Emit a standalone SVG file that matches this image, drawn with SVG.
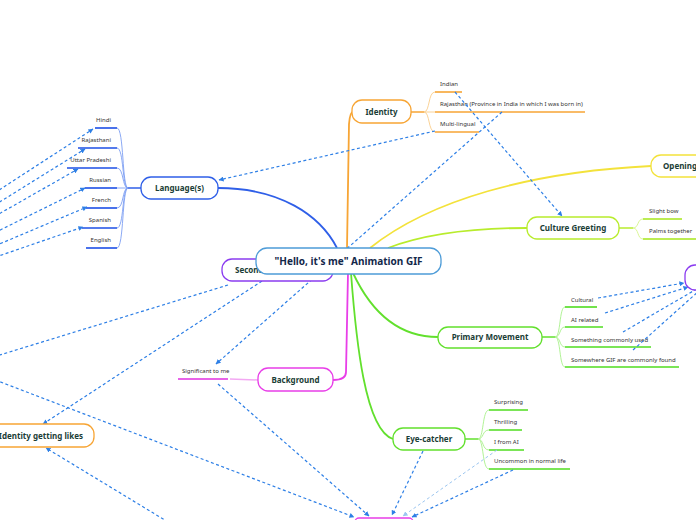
<svg xmlns="http://www.w3.org/2000/svg" width="696" height="520" viewBox="0 0 696 520">
<defs>
<marker id="ah" viewBox="0 0 6 6" refX="5.5" refY="3" markerWidth="5" markerHeight="5" markerUnits="userSpaceOnUse" orient="auto"><path d="M0,0 L6,3 L0,6 z" fill="#2d7fe6"/></marker>
<marker id="ahl" viewBox="0 0 6 6" refX="5.5" refY="3" markerWidth="5" markerHeight="5" markerUnits="userSpaceOnUse" orient="auto"><path d="M0,0 L6,3 L0,6 z" fill="#9cc6f0"/></marker>
<style>
.node{fill:#fff;stroke-width:1.3}
.lbl{font-family:"Noto Sans","Open Sans",sans-serif;font-weight:bold;font-size:8px;fill:#1a3d36;text-anchor:middle}
.ctr{font-family:"Noto Sans","Open Sans",sans-serif;font-weight:bold;font-size:10px;fill:#13284a;text-anchor:middle}
.sm{font-family:"Noto Sans","Open Sans",sans-serif;font-size:6px;fill:#333}
.br{fill:none;stroke-width:1.8}
.tw{fill:none;stroke-width:0.9}
.ul{fill:none;stroke-width:1.6}
.dash{fill:none;stroke:#2d7fe6;stroke-width:1.2;stroke-dasharray:3 2.5}
.dashl{fill:none;stroke:#9cc6f0;stroke-width:1;stroke-dasharray:3 2.5}
</style>
</defs>
<rect width="696" height="520" fill="#fff"/>

<g id="connectors">
<path class="br" stroke="#2f5fe8" d="M337,248 C320,215 280,188 218,188"/>
<path class="br" stroke="#f7a535" d="M347,248 L349,124 Q350,112 353,112"/>
<path class="br" stroke="#f3e23b" d="M370,248 C430,200 530,172 651,166"/>
<path class="br" stroke="#b8ec2c" d="M388,248 C430,232 480,228 527,228"/>
<path class="br" stroke="#62e02d" d="M353,273 C375,320 405,337 438,337"/>
<path class="br" stroke="#62e02d" d="M351,273 C356,340 365,430 393,439"/>
<path class="br" stroke="#e83ee8" d="M348,273 L346,372 Q346,380 333,380"/>
</g>

<g id="language-children">
<line x1="141" y1="188" x2="128" y2="188" stroke="#2f5fe8" stroke-width="1.5"/>
<g class="tw" stroke="#7e9ff3">
<path d="M128,188 C122,188 124,128 117,128"/>
<path d="M128,188 C122,188 124,148 117,148"/>
<path d="M128,188 C122,188 124,168 117,168"/>
<path d="M128,188 L117,188"/>
<path d="M128,188 C122,188 124,208 117,208"/>
<path d="M128,188 C122,188 124,228 117,228"/>
<path d="M128,188 C122,188 124,248 117,248"/>
</g>
<g class="ul" stroke="#1d4fe6">
<line x1="95" y1="128" x2="117" y2="128"/>
<line x1="78" y1="148" x2="117" y2="148"/>
<line x1="67" y1="168" x2="117" y2="168"/>
<line x1="85" y1="188" x2="117" y2="188"/>
<line x1="86" y1="208" x2="117" y2="208"/>
<line x1="82" y1="228" x2="117" y2="228"/>
<line x1="86" y1="248" x2="117" y2="248"/>
</g>
<g class="sm" text-anchor="end">
<text x="111" y="122">Hindi</text>
<text x="111" y="142">Rajasthani</text>
<text x="111" y="162">Uttar Pradeshi</text>
<text x="111" y="182">Russian</text>
<text x="111" y="202">French</text>
<text x="111" y="222">Spanish</text>
<text x="111" y="242">English</text>
</g>
</g>

<g id="identity-children">
<line x1="411" y1="112" x2="424" y2="112" stroke="#f7a535" stroke-width="1.5"/>
<g class="tw" stroke="#f9cd8a">
<path d="M424,112 C430,112 428,92 435,92"/>
<path d="M424,112 L435,112"/>
<path d="M424,112 C430,112 428,132 435,132"/>
</g>
<g class="ul" stroke="#f7a535">
<line x1="435" y1="92" x2="462" y2="92"/>
<line x1="435" y1="112" x2="585" y2="112"/>
<line x1="435" y1="132" x2="479" y2="132"/>
</g>
<g class="sm">
<text x="440" y="86">Indian</text>
<text x="440" y="106">Rajasthan (Province in India in which I was born in)</text>
<text x="440" y="126">Multi-lingual</text>
</g>
</g>

<g id="culture-children">
<line x1="619" y1="228" x2="633" y2="228" stroke="#b8ec2c" stroke-width="1.5"/>
<g class="tw" stroke="#d6f58a">
<path d="M633,228 C639,228 637,219 643,219"/>
<path d="M633,228 C639,228 637,239 643,239"/>
</g>
<g class="ul" stroke="#a6e61a">
<line x1="643" y1="219" x2="682" y2="219"/>
<line x1="643" y1="239" x2="700" y2="239"/>
</g>
<g class="sm">
<text x="649" y="213">Slight bow</text>
<text x="649" y="233">Palms together</text>
</g>
</g>

<g id="primary-children">
<line x1="542" y1="337" x2="555" y2="337" stroke="#62e02d" stroke-width="1.5"/>
<g class="tw" stroke="#a8f08a">
<path d="M555,337 C561,337 559,307 565,307"/>
<path d="M555,337 C561,337 559,327 565,327"/>
<path d="M555,337 C561,337 559,347 565,347"/>
<path d="M555,337 C561,337 559,367 565,367"/>
</g>
<g class="ul" stroke="#4fdc1f">
<line x1="565" y1="307" x2="597" y2="307"/>
<line x1="565" y1="327" x2="603" y2="327"/>
<line x1="565" y1="347" x2="651" y2="347"/>
<line x1="565" y1="367" x2="679" y2="367"/>
</g>
<g class="sm">
<text x="571" y="302">Cultural</text>
<text x="571" y="322">AI related</text>
<text x="571" y="342">Something commonly used</text>
<text x="571" y="362">Somewhere GIF are commonly found</text>
</g>
</g>

<g id="eye-children">
<line x1="465" y1="439" x2="478" y2="439" stroke="#62e02d" stroke-width="1.5"/>
<g class="tw" stroke="#a8f08a">
<path d="M478,439 C484,439 482,410 489,410"/>
<path d="M478,439 C484,439 482,430 489,430"/>
<path d="M478,439 C484,439 482,450 489,450"/>
<path d="M478,439 C484,439 482,469 489,469"/>
</g>
<g class="ul" stroke="#4fdc1f">
<line x1="489" y1="410" x2="528" y2="410"/>
<line x1="489" y1="430" x2="522" y2="430"/>
<line x1="489" y1="450" x2="524" y2="450"/>
<line x1="489" y1="469" x2="570" y2="469"/>
</g>
<g class="sm">
<text x="494" y="404">Surprising</text>
<text x="494" y="424">Thrilling</text>
<text x="494" y="444">I from AI</text>
<text x="494" y="463">Uncommon in normal life</text>
</g>
</g>

<g id="background-children">
<line x1="258" y1="380" x2="230" y2="379" stroke="#f3a8f3" stroke-width="1.5"/>
<line x1="178" y1="379" x2="228" y2="379" stroke="#e02fe0" stroke-width="1.6"/>
<text class="sm" x="182" y="373">Significant to me</text>
</g>

<g id="links">
<path class="dash" marker-end="url(#ah)" d="M435,131 L219,180"/>
<path class="dash" marker-end="url(#ah)" d="M502,112 L216,364"/>
<path class="dash" marker-end="url(#ah)" d="M455,92 L562,216"/>
<path class="dash" marker-end="url(#ah)" d="M-10,196 L93,129"/>
<path class="dash" marker-end="url(#ah)" d="M-10,208 L85,149"/>
<path class="dash" marker-end="url(#ah)" d="M-10,219 L78,169"/>
<path class="dash" marker-end="url(#ah)" d="M-10,235 L85,188"/>
<path class="dash" marker-end="url(#ah)" d="M-10,248 L87,207"/>
<path class="dash" marker-end="url(#ah)" d="M-10,259 L83,227"/>
<path class="dash" marker-end="url(#ah)" d="M262,281 L43,424"/>
<path class="dash" d="M228,285 L-10,358"/>
<path class="dash" marker-end="url(#ah)" d="M-10,378 L354,517"/>
<path class="dash" marker-end="url(#ah)" d="M218,384 L369,516"/>
<path class="dash" marker-end="url(#ah)" d="M423,451 L392,515"/>
<path class="dashl" marker-end="url(#ahl)" d="M497,450 L403,516"/>
<path class="dash" marker-end="url(#ah)" d="M513,470 L412,517"/>
<path class="dash" marker-end="url(#ah)" d="M173,525 L46,448"/>
<path class="dash" marker-end="url(#ah)" d="M598,298 L684,283"/>
<path class="dash" marker-end="url(#ah)" d="M605,313 L688,287"/>
<path class="dash" d="M623,332 L700,287"/>
<path class="dash" d="M633,350 L700,290"/>
</g>

<g id="node-language"><rect class="node" stroke="#2f5fe8" x="141" y="177" width="77" height="22" rx="10"/><text class="lbl" x="179.5" y="191">Language(s)</text></g>
<g id="node-identity"><rect class="node" stroke="#f7a535" x="352" y="100" width="59" height="23" rx="10"/><text class="lbl" x="381.5" y="115">Identity</text></g>
<g id="node-opening"><rect class="node" stroke="#f3e23b" x="651" y="155" width="70" height="22" rx="10"/><text class="lbl" x="663" y="169" style="text-anchor:start">Opening</text></g>
<g id="node-culture"><rect class="node" stroke="#b8ec2c" x="527" y="217" width="92" height="22" rx="10"/><text class="lbl" x="573" y="231">Culture Greeting</text></g>
<g id="node-primary"><rect class="node" stroke="#62e02d" x="438" y="327" width="104" height="21" rx="10"/><text class="lbl" x="490" y="340">Primary Movement</text></g>
<g id="node-eye"><rect class="node" stroke="#62e02d" x="393" y="428" width="72" height="22" rx="10"/><text class="lbl" x="429" y="442">Eye-catcher</text></g>
<g id="node-background"><rect class="node" stroke="#e83ee8" x="258" y="368" width="75" height="23" rx="10"/><text class="lbl" x="295.5" y="383">Background</text></g>
<g id="node-likes"><rect class="node" stroke="#f7a535" x="-20" y="424" width="114" height="23" rx="10"/><text class="lbl" x="83" y="439" style="text-anchor:end">Identity getting likes</text></g>
<g id="node-purple"><rect class="node" stroke="#8b3cf0" x="685" y="265" width="30" height="25" rx="10"/></g>
<g id="node-bottom"><rect class="node" stroke="#e83ee8" x="355" y="518" width="58" height="20" rx="4"/></g>
<g id="node-second"><rect class="node" stroke="#8b3cf0" x="222" y="259" width="111" height="22" rx="10"/><text class="lbl" x="235" y="273" style="text-anchor:start">Second</text></g>
<g id="node-central"><rect class="node" stroke="#4e9cd8" x="256" y="248" width="185" height="26" rx="11"/><text class="ctr" x="348.5" y="264.5">"Hello, it's me" Animation GIF</text></g>
</svg>
